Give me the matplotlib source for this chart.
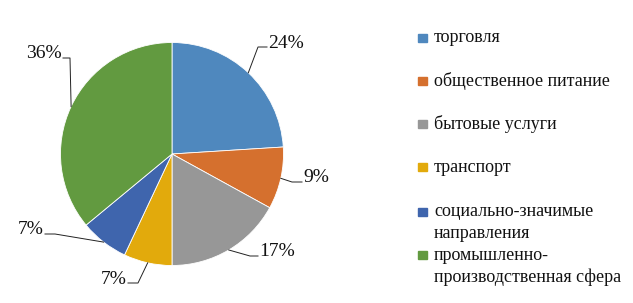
import matplotlib
matplotlib.use("Agg")
import numpy as np
import matplotlib.pyplot as plt
from matplotlib.patches import Rectangle

categories = ["торговля", "общественное питание", "бытовые услуги", "транспорт",
              "социально-значимые\nнаправления", "промышленно-\nпроизводственная сфера"]
shares = [24, 9, 17, 7, 7, 36]
labels = ["24%", "9%", "17%", "7%", "7%", "36%"]
colors = ["#4f88be", "#d5702e", "#979797", "#e2aa0c", "#3f65ad", "#629a40"]

plt.rcParams["font.family"] = ["Liberation Serif", "DejaVu Serif"]

W, H = 633, 303
fig = plt.figure(figsize=(W / 100, H / 100), dpi=100)
ax = fig.add_axes([0, 0, 1, 1])

cx, cy, R = 172, 149, 111.5
wedges, _ = ax.pie(shares, colors=colors, startangle=90, counterclock=False,
                   center=(cx, cy), radius=R, frame=True,
                   wedgeprops=dict(edgecolor="white", linewidth=0.6))
ax.set_xlim(0, W); ax.set_ylim(0, H)
ax.set_aspect("equal"); ax.axis("off")

# leader layout: elbow, line end, text anchor (figure px, y up)
leaders = [((258, 256), (267, 256), "left"),
           ((292, 121), (302, 121), "left"),
           ((250, 47), (258, 47), "left"),
           ((138, 20), (128, 20), "right"),
           ((55, 69), (45, 69), "right"),
           ((70, 245), (63, 245), "right")]
for w, lab, (elb, end, ha) in zip(wedges, labels, leaders):
    ang = np.deg2rad((w.theta1 + w.theta2) / 2)
    p = (cx + R * np.cos(ang), cy + R * np.sin(ang))
    ax.plot([p[0], elb[0], end[0]], [p[1], elb[1], end[1]], color="#222222", lw=0.7)
    tx = end[0] + (1 if ha == "left" else -1)
    ax.text(tx, end[1] + 4, lab, ha=ha, va="center", fontsize=14, color="#111111")

# legend
rows = [265, 222, 179, 136, 91, 48]
for c, name, y in zip(colors, categories, rows):
    ax.add_patch(Rectangle((418, y - 4), 9, 8, color=c))
    for i, line in enumerate(name.split("\n")):
        ax.text(434, y - 22 * i, line, ha="left", va="center",
                fontsize=13, color="#111111")

fig.savefig("out.png", dpi=100)
